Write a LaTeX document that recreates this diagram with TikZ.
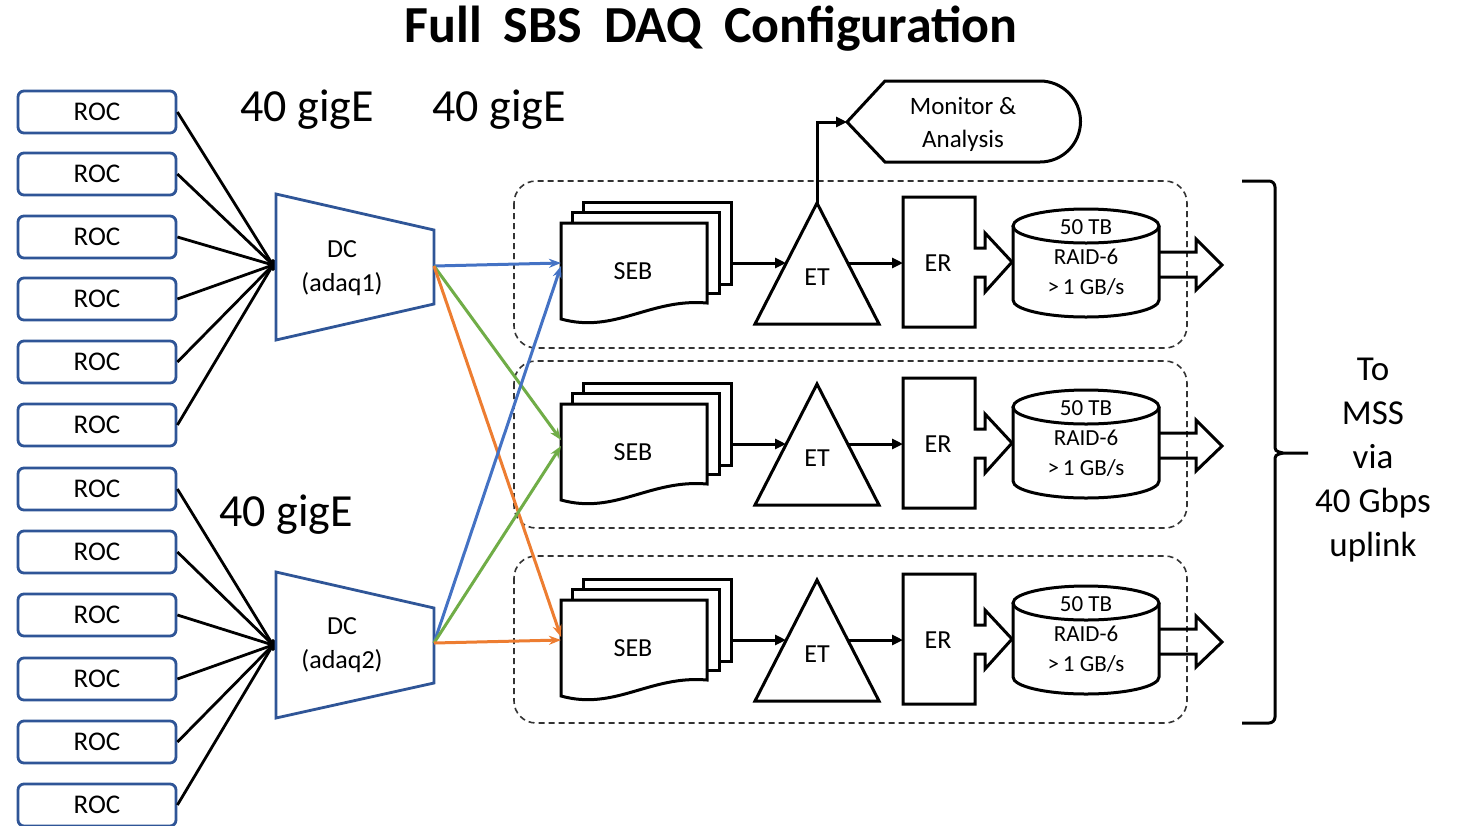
\documentclass[tikz,border=0pt]{standalone}
\usepackage{fontspec}
\setmainfont{Carlito}
\usetikzlibrary{arrows.meta,calc}
\definecolor{rocblue}{RGB}{47,85,151}
\definecolor{lblue}{RGB}{68,114,196}
\definecolor{lgreen}{RGB}{112,173,71}
\definecolor{lorange}{RGB}{237,125,49}
\newcommand{\fs}[1]{\fontsize{#1}{#1}\selectfont}
\begin{document}
\begin{tikzpicture}[x=1pt,y=-1pt,line join=miter,
  roc/.style={draw=rocblue,line width=2.8pt,rounded corners=6pt,minimum width=158pt,minimum height=42pt,inner sep=0pt,font=\fs{27}},
  wire/.style={black,line width=2.8pt},
  dcshape/.style={draw=rocblue,line width=2.8pt,fill=white},
  colline/.style={line width=3pt,-{Stealth[length=12pt,width=9pt]}},
  blk/.style={black,line width=3pt},
  blkarrow/.style={black,line width=3pt,-{Triangle[length=11pt,width=10pt]}},
  dashbox/.style={black!80,line width=1.6pt,dash pattern=on 6pt off 4pt,rounded corners=22pt},
  lbl/.style={inner sep=0pt,align=center}]
\useasboundingbox (0,0) rectangle (1463,825);
\fill[white] (0,0) rectangle (1463,825);

% title
\node[lbl,font=\fs{52}\bfseries] (title) at (711,29) {Full\hspace{22pt}SBS\hspace{22pt}DAQ\hspace{22pt}Configuration};

% gigE labels
\node[lbl,font=\fs{46}] (g1) at (307,110) {40 gigE};
\node[lbl,font=\fs{46}] (g2) at (499,110) {40 gigE};
\node[lbl,font=\fs{46}] (g3) at (286,515) {40 gigE};

% dashed boxes
\foreach \dy in {0,180,375}{
  \draw[dashbox] (514,181+\dy) rectangle (1187,348+\dy);
}

% ROCs
\foreach \i/\y in {1/112,2/174,3/237,4/299,5/362,6/425,7/489,8/552,9/615,10/679,11/742,12/805}{
  \node[roc] (roc\i) at (97,\y) {ROC};
}
\coordinate (hub1) at (273,265);
\coordinate (hub2) at (273,645);
\foreach \i in {1,...,6}{ \draw[wire] (roc\i.east) -- (hub1); }
\foreach \i in {7,...,12}{ \draw[wire] (roc\i.east) -- (hub2); }
\fill (hub1) ellipse[x radius=3.5pt,y radius=6pt];
\fill (hub2) ellipse[x radius=3.5pt,y radius=6pt];

% DCs
\draw[dcshape] (276,194) -- (434,230) -- (434,304) -- (276,340) -- cycle;
\node[lbl,font=\fs{26}] (dc1) at (342,268) {DC\\[8pt](adaq1)};
\draw[dcshape] (276,572) -- (434,608) -- (434,683) -- (276,718) -- cycle;
\node[lbl,font=\fs{26}] (dc2) at (342,645) {DC\\[8pt](adaq2)};
\coordinate (dc1out) at (434,266);
\coordinate (dc2out) at (434,643);

% rows
\foreach \r/\dy in {1/0,2/181,3/377}{
  % SEB stack
  \draw[blk,fill=white] (583,202+\dy) rectangle (731,284+\dy);
  \draw[blk,fill=white] (572,212+\dy) rectangle (719,293+\dy);
  \draw[blk,fill=white] (561,223+\dy) -- (707,223+\dy) -- (707,303+\dy)
     .. controls (650,298+\dy) and (615,334+\dy) .. (561,319+\dy) -- cycle;
  \node[lbl,font=\fs{26}] (seb\r) at (633,271+\dy) {SEB};
  \coordinate (sebin\r) at (561,263+\dy);
  \coordinate (sebout\r) at (731,263+\dy);
  % ET
  \draw[blk,fill=white] (817,203+\dy) -- (879,324+\dy) -- (755,324+\dy) -- cycle;
  \node[lbl,font=\fs{26}] (et\r) at (817,277+\dy) {ET};
  \coordinate (etin\r) at (786,263+\dy);
  \coordinate (etout\r) at (848,263+\dy);
  \coordinate (ettop\r) at (817,203+\dy);
  % ER
  \draw[blk,fill=white] (903,197+\dy) -- (975,197+\dy) -- (975,248+\dy) -- (985,248+\dy)
     -- (985,233+\dy) -- (1012,262+\dy) -- (985,292+\dy) -- (985,277+\dy) -- (975,277+\dy)
     -- (975,327+\dy) -- (903,327+\dy) -- cycle;
  \node[lbl,font=\fs{26}] (er\r) at (938,263+\dy) {ER};
  \coordinate (erin\r) at (903,263+\dy);
  % cylinder
  \draw[blk,fill=white] (1013,226+\dy) -- (1013,300+\dy) arc[start angle=180,end angle=0,x radius=73,y radius=17] -- (1159,226+\dy);
  \draw[blk,fill=white] (1086,226+\dy) ellipse[x radius=73,y radius=17];
  \node[lbl,font=\fs{23}] (disk\r) at (1086,258+\dy) {50 TB\\[7pt]RAID-6\\[7pt]{>}\,1 GB/s};
  % output arrow
  \draw[blk] (1160,252+\dy) -- (1196,252+\dy) -- (1196,239+\dy) -- (1222,265+\dy) -- (1196,290+\dy) -- (1196,277+\dy) -- (1160,277+\dy);
  % connectors
  \draw[blkarrow] (sebout\r) -- (etin\r);
  \draw[blkarrow] (etout\r) -- (erin\r);
}

% colored links
\draw[colline,lblue] (dc1out) -- (sebin1);
\draw[colline,lgreen] (dc1out) -- ($(sebin2)+(0,-4)$);
\draw[colline,lorange] (dc1out) -- ($(sebin3)+(0,-3)$);
\draw[colline,lblue] (dc2out) -- ($(sebin1)+(0,3)$);
\draw[colline,lgreen] (dc2out) -- ($(sebin2)+(0,2)$);
\draw[colline,lorange] (dc2out) -- ($(sebin3)+(0,0)$);

% monitor
\draw[blk,fill=white] (847,122) -- (885,81) -- (1040,81) arc[start angle=-90,end angle=90,radius=40.5] -- (885,162) -- cycle;
\node[lbl,font=\fs{25}] (mon) at (963,124) {Monitor \&\\[8pt]Analysis};
\coordinate (monin) at (847,122);
\draw[blkarrow] (ettop1) -- (817,122) -- (monin);

% brace
\draw[black,line width=3pt] (1242,181) -- (1269,181) arc[start angle=-90,end angle=0,radius=6] -- (1275,444) .. controls (1275,451) .. (1283,453) -- (1308,453);
\draw[black,line width=3pt] (1283,453) .. controls (1275,455) .. (1275,462) -- (1275,717) arc[start angle=0,end angle=90,radius=6] -- (1242,723);
\node[lbl,font=\fs{35}] (mss) at (1373,460) {To\\[9pt]MSS\\[9pt]via\\[9pt]40 Gbps\\[9pt]uplink};
\end{tikzpicture}
\end{document}
